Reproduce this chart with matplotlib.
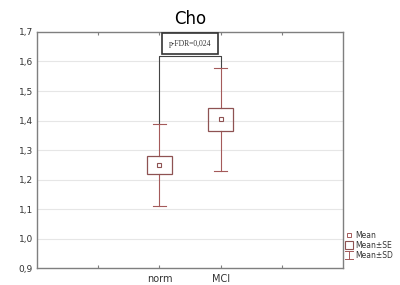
import matplotlib
matplotlib.use("Agg")
import matplotlib.pyplot as plt
from matplotlib.legend_handler import HandlerBase
from matplotlib.lines import Line2D
from matplotlib.patches import Rectangle
import numpy as np

# data
groups = ['norm', 'MCI']
group_pos = [2, 3]
means = [1.249, 1.404]
se_low = [1.219, 1.365]
se_high = [1.281, 1.443]
sd_low = [1.111, 1.229]
sd_high = [1.387, 1.577]
p_label = 'p-FDR=0,024'
title = 'Cho'
yticks = [0.9, 1.0, 1.1, 1.2, 1.3, 1.4, 1.5, 1.6, 1.7]

col = '#a45a5a'
box_col = '#8e5252'
gray = '#7f7f7f'


class SDHandler(HandlerBase):
    """draw an I-shaped whisker for the legend"""
    def create_artists(self, legend, orig, xd, yd, w, h, fontsize, trans):
        cx = xd + w / 2
        lines = [
            Line2D([cx, cx], [yd - 1, yd + h + 1]),
            Line2D([cx - 3, cx + 3], [yd + h + 1, yd + h + 1]),
            Line2D([cx - 3, cx + 3], [yd - 1, yd - 1]),
        ]
        for ln in lines:
            ln.set_color(col)
            ln.set_linewidth(0.7)
            ln.set_transform(trans)
        return lines


fig = plt.figure(figsize=(4, 2.85), dpi=100)
ax = fig.add_axes([0.0925, 0.058, 0.765, 0.83])

ax.set_xlim(0, 5)
ax.set_ylim(0.9, 1.7)

for y in yticks[1:-1]:
    ax.axhline(y, color='#e6e6e6', lw=0.8, zorder=0)

box_w = 0.4
cap_w = 0.2
for i, x in enumerate(group_pos):
    # SD whiskers
    ax.plot([x, x], [sd_low[i], se_low[i]], color=col, lw=0.8, zorder=2)
    ax.plot([x, x], [se_high[i], sd_high[i]], color=col, lw=0.8, zorder=2)
    ax.plot([x - cap_w / 2, x + cap_w / 2], [sd_low[i]] * 2, color=col, lw=0.8)
    ax.plot([x - cap_w / 2, x + cap_w / 2], [sd_high[i]] * 2, color=col, lw=0.8)
    # SE box
    ax.add_patch(Rectangle((x - box_w / 2, se_low[i]), box_w, se_high[i] - se_low[i],
                           fill=False, edgecolor=box_col, lw=0.9, zorder=3))
    # mean
    ax.plot(x, means[i], marker='s', ms=3.5, mfc='white', mec=box_col, mew=0.8, zorder=4)

# significance bracket
top = 1.619
ax.plot([group_pos[0], group_pos[0], group_pos[1], group_pos[1]],
        [sd_high[0], top, top, sd_high[1]], color='#444444', lw=0.8, zorder=1)
ax.text(np.mean(group_pos), 1.66, p_label, ha='center', va='center',
        fontsize=5.5, family='Liberation Serif', color='#333333',
        bbox=dict(boxstyle='square,pad=0.85', fc='white', ec='#333333', lw=1.2))

ax.set_title(title, fontsize=12, pad=6)

ax.set_yticks(yticks)
ax.set_yticklabels([f'{v:.1f}'.replace('.', ',') for v in yticks])
ax.set_xticks([1, 2, 3, 4])
ax.set_xticklabels(['', groups[0], groups[1], ''])
ax.tick_params(axis='y', length=0, labelsize=6.5, colors='#333333', pad=3)
ax.tick_params(axis='x', length=2, direction='in', top=True, labelsize=7,
               colors='#333333', color=gray, pad=4)
for s in ax.spines.values():
    s.set_color(gray)
    s.set_linewidth(1.0)

handles = [
    Line2D([], [], ls='none', marker='s', ms=3, mfc='white', mec=col, mew=0.7),
    Line2D([], [], ls='none', marker='s', ms=5.5, mfc='white', mec=box_col, mew=0.8),
    Line2D([], [], ls='none'),
]
leg = fig.legend(handles, ['Mean', 'Mean±SE', 'Mean±SD'],
                 handler_map={handles[2]: SDHandler()},
                 loc='lower left', bbox_to_anchor=(0.855, 0.075),
                 frameon=False, fontsize=5.5, handlelength=0.9, handletextpad=0.3,
                 labelspacing=0.15, borderpad=0)
for t in leg.get_texts():
    t.set_color('#333333')

fig.savefig('out.png', dpi=100)
